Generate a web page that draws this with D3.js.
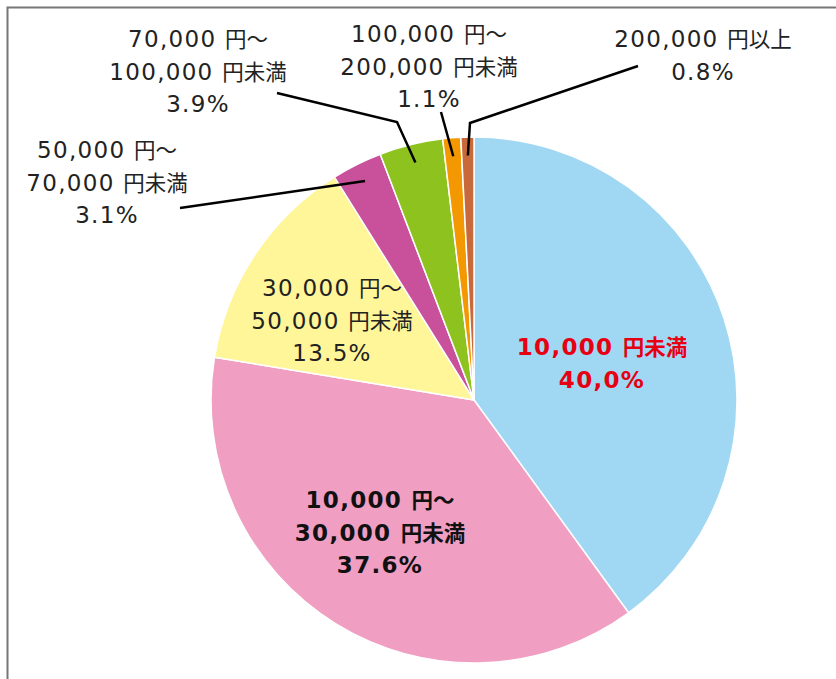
<!DOCTYPE html>
<html><head><meta charset="utf-8">
<script src="https://cdn.jsdelivr.net/npm/d3@7"></script>
<style>body{margin:0;background:#fff}svg{display:block}</style>
</head><body>
<svg id="c" width="836" height="679"></svg>
<script>
const categories = [
  ["10,000 円未満"],
  ["10,000 円〜", "30,000 円未満"],
  ["30,000 円〜", "50,000 円未満"],
  ["50,000 円〜", "70,000 円未満"],
  ["70,000 円〜", "100,000 円未満"],
  ["100,000 円〜", "200,000 円未満"],
  ["200,000 円以上"]
];
const values = [40.0, 37.6, 13.5, 3.1, 3.9, 1.1, 0.8];
const valueLabels = ["40,0%", "37.6%", "13.5%", "3.1%", "3.9%", "1.1%", "0.8%"];
const colors = ["#a0d8f3", "#f09ec2", "#fff599", "#c9509a", "#8dc21f", "#f39800", "#c8693c"];

// label layout (centre x, first baseline y, style)
const layout = [
  {x: 602, y: 355, fill: "#e60012", weight: "bold"},
  {x: 380, y: 508, fill: "#111", weight: "bold"},
  {x: 332, y: 296, fill: "#222", weight: "normal"},
  {x: 107, y: 158, fill: "#222", weight: "normal", leader: [[180, 208]]},
  {x: 198, y: 47, fill: "#222", weight: "normal", leader: [[277, 93], [397, 122]]},
  {x: 429, y: 42, fill: "#222", weight: "normal", leader: [[441, 112]]},
  {x: 703, y: 47, fill: "#222", weight: "normal", leader: [[638, 66], [470, 123]]}
];

const svg = d3.select("#c");
const W = 836, H = 679;
const cx = 474, cy = 400, R = 263;

svg.append("rect").attr("x", 7.5).attr("y", 7.5).attr("width", W + 20).attr("height", H + 20)
  .attr("fill", "none").attr("stroke", "#777").attr("stroke-width", 2);

const data = values.map((v, i) => ({v, i}));
const pie = d3.pie().value(d => d.v).sort(null);
const arcs = pie(data);
const arc = d3.arc().innerRadius(0).outerRadius(R);

const g = svg.append("g").attr("transform", `translate(${cx},${cy})`);
g.selectAll("path").data(arcs).join("path")
  .attr("d", arc).attr("fill", d => colors[d.data.i])
  .attr("stroke", "#fff").attr("stroke-width", 1.5).attr("stroke-linejoin", "round");

const inner = d3.arc().innerRadius(R * 0.93).outerRadius(R * 0.93);
arcs.forEach((a, i) => {
  const L = layout[i];
  if (!L.leader) return;
  const c = inner.centroid(a);
  const pts = L.leader.concat([[cx + c[0], cy + c[1]]]);
  svg.append("path").attr("d", d3.line()(pts)).attr("fill", "none")
    .attr("stroke", "#000").attr("stroke-width", 2.5);
});

const cjk = /[\u3000-\u9fff\uff00-\uffef]/;
function runs(s) {
  const out = [];
  for (const ch of s) {
    const k = cjk.test(ch);
    if (out.length && out[out.length - 1].k === k) out[out.length - 1].s += ch;
    else out.push({k, s: ch});
  }
  return out;
}

arcs.forEach((a, i) => {
  const L = layout[i];
  const lines = categories[i].concat([valueLabels[i]]);
  const t = svg.append("text").attr("text-anchor", "middle")
    .attr("font-weight", L.weight).attr("fill", L.fill);
  lines.forEach((s, k) => {
    const line = t.append("tspan").attr("x", L.x).attr("y", L.y + k * 32.5);
    runs(s).forEach(r => {
      line.append("tspan").text(r.s)
        .attr("font-family", r.k ? "'Noto Sans CJK JP', sans-serif" : "'DejaVu Sans', sans-serif")
        .attr("font-size", r.k ? 21.5 : 23)
        .attr("letter-spacing", r.k ? 0 : 1.3);
    });
  });
});
</script>
</body></html>
